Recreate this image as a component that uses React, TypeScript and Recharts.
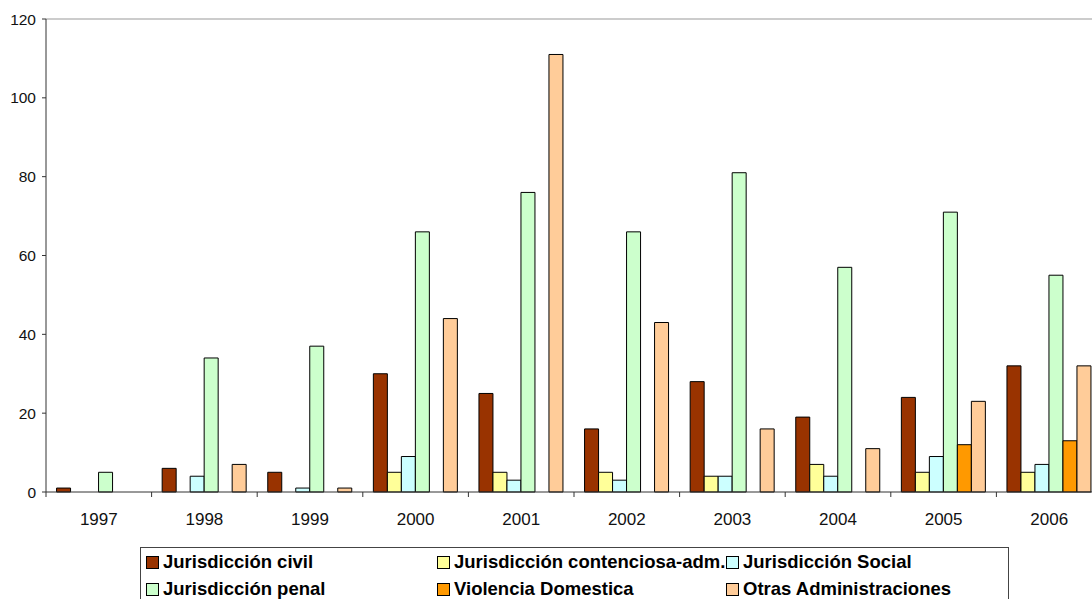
import { Bar, BarChart, ReferenceLine, XAxis, YAxis } from "recharts";

const years = ["1997", "1998", "1999", "2000", "2001", "2002", "2003", "2004", "2005", "2006"];

const civil = [1, 6, 5, 30, 25, 16, 28, 19, 24, 32];
const contenciosa = [null, null, null, 5, 5, 5, 4, 7, 5, 5];
const social = [null, 4, 1, 9, 3, 3, 4, 4, 9, 7];
const penal = [5, 34, 37, 66, 76, 66, 81, 57, 71, 55];
const violencia = [null, null, null, null, null, null, null, null, 12, 13];
const otras = [null, 7, 1, 44, 111, 43, 16, 11, 23, 32];

const yTicks = [0, 20, 40, 60, 80, 100, 120];

const series = [
  { key: "civil", name: "Jurisdicción civil", color: "#993300", values: civil },
  { key: "contenciosa", name: "Jurisdicción contenciosa-adm.", color: "#FFFF99", values: contenciosa },
  { key: "social", name: "Jurisdicción Social", color: "#CCFFFF", values: social },
  { key: "penal", name: "Jurisdicción penal", color: "#CCFFCC", values: penal },
  { key: "violencia", name: "Violencia Domestica", color: "#FF9900", values: violencia },
  { key: "otras", name: "Otras Administraciones", color: "#FFCC99", values: otras },
];

const data = years.map((year, i) => {
  const row: Record<string, string | number | null> = { year };
  series.forEach((s) => {
    row[s.key] = s.values[i];
  });
  return row;
});

const FONT = '"Liberation Sans", Arial, sans-serif';

// legend columns (left offsets inside the legend box)
const legendCols = [5, 296, 585];

function YearTick(props: any) {
  const { x, y, payload } = props;
  const half = payload?.offset ?? 52.8;
  return (
    <g>
      <line x1={x - half} x2={x - half} y1={y} y2={y + 5} stroke="#333" />
      <text x={x} y={y + 33} textAnchor="middle" fontSize={17} fill="#111" fontFamily={FONT}>
        {payload.value}
      </text>
    </g>
  );
}

function ChartLegend() {
  return (
    <div
      style={{
        position: "absolute",
        left: 140,
        top: 547,
        width: 869,
        height: 70,
        border: "1px solid #444",
        boxSizing: "border-box",
        fontFamily: FONT,
        fontWeight: "bold",
        fontSize: 18.5,
        color: "#000",
      }}
    >
      {series.map((s, i) => (
        <div
          key={s.key}
          style={{
            position: "absolute",
            left: legendCols[i % 3],
            top: 3 + Math.floor(i / 3) * 27,
            display: "flex",
            alignItems: "center",
            whiteSpace: "nowrap",
            height: 22,
          }}
        >
          <span
            style={{
              display: "inline-block",
              width: 11,
              height: 11,
              background: s.color,
              border: "1px solid #000",
              marginRight: 4,
            }}
          />
          {s.name}
        </div>
      ))}
    </div>
  );
}

export default function App() {
  return (
    <div
      style={{
        position: "absolute",
        left: 0,
        top: 0,
        width: 1092,
        height: 599,
        overflow: "hidden",
        background: "#fff",
      }}
    >
      <BarChart
        width={1102}
        height={599}
        data={data}
        margin={{ top: 19, right: 0, bottom: 0, left: 0 }}
        barCategoryGap="10%"
        barGap={0}
      >
        <XAxis
          dataKey="year"
          height={107}
          tickSize={0}
          tickMargin={0}
          tick={<YearTick />}
          axisLine={{ stroke: "#333" }}
          interval={0}
        />
        <YAxis
          width={46}
          domain={[0, 120]}
          ticks={yTicks}
          tickSize={4}
          tickMargin={6}
          axisLine={{ stroke: "#333" }}
          tickLine={{ stroke: "#333" }}
          tick={{ fontSize: 15.5, fill: "#111", fontFamily: FONT }}
        />
        <ReferenceLine y={120} stroke="#999" />
        {series.map((s) => (
          <Bar
            key={s.key}
            dataKey={s.key}
            name={s.name}
            fill={s.color}
            stroke="#000"
            strokeWidth={1}
            isAnimationActive={false}
          />
        ))}
      </BarChart>
      <ChartLegend />
    </div>
  );
}
